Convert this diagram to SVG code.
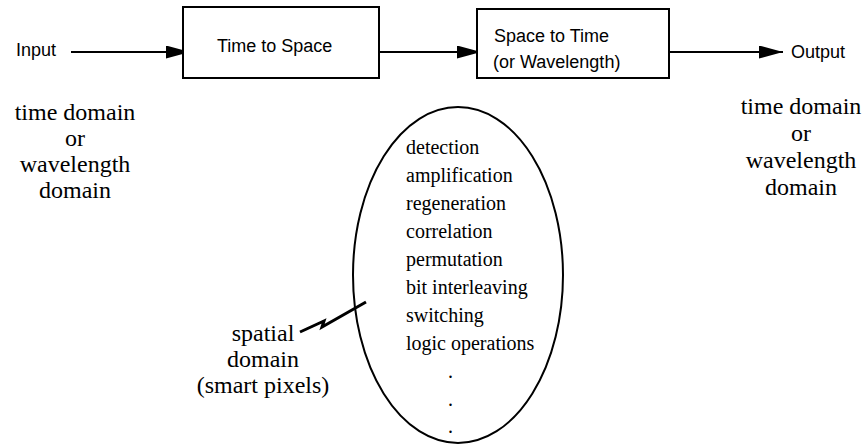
<svg xmlns="http://www.w3.org/2000/svg" width="865" height="447" viewBox="0 0 865 447">
<style>
.box{fill:#fff;stroke:#000;stroke-width:2}
.sans{font-family:"Liberation Sans",Arial,sans-serif;font-size:18px;fill:#000}
.serif{font-family:"Liberation Serif","Times New Roman",serif;font-size:24px;fill:#000}
.list{font-family:"Liberation Serif","Times New Roman",serif;font-size:20px;fill:#000}
.ln{stroke:#000;stroke-width:2;fill:none}
</style>
<defs>
<marker id="arr" markerWidth="24" markerHeight="13" refX="24" refY="6.5" orient="auto" markerUnits="userSpaceOnUse">
<path d="M0,0 L24,6.5 L0,13 Z" fill="#000"/>
</marker>
</defs>
<g id="connectors">
<line class="ln" x1="71" y1="52" x2="190" y2="52" marker-end="url(#arr)"/>
<line class="ln" x1="379" y1="52" x2="481" y2="52" marker-end="url(#arr)"/>
<line class="ln" x1="669" y1="52" x2="783" y2="52" marker-end="url(#arr)"/>
<polyline points="300,332 324,321 322,327 366,302" fill="none" stroke="#000" stroke-width="3" stroke-linejoin="miter"/>
</g>
<g id="input"><text class="sans" x="16" y="56">Input</text></g>
<g id="time-to-space">
<rect class="box" x="183" y="7" width="196" height="71"/>
<text class="sans" x="217" y="52">Time to Space</text>
</g>
<g id="space-to-time">
<rect class="box" x="477" y="9" width="192" height="69"/>
<text class="sans" x="494" y="42">Space to Time</text>
<text class="sans" x="493" y="68">(or Wavelength)</text>
</g>
<g id="output"><text class="sans" x="791" y="58">Output</text></g>
<g id="left-domain" class="serif" text-anchor="middle">
<text x="75" y="120">time domain</text>
<text x="75" y="146">or</text>
<text x="75" y="172">wavelength</text>
<text x="75" y="198">domain</text>
</g>
<g id="right-domain" class="serif" text-anchor="middle">
<text x="801" y="114">time domain</text>
<text x="801" y="141">or</text>
<text x="801" y="168">wavelength</text>
<text x="801" y="195">domain</text>
</g>
<g id="spatial-domain" class="serif" text-anchor="middle">
<text x="263" y="341">spatial</text>
<text x="263" y="367">domain</text>
<text x="263" y="393">(smart pixels)</text>
</g>
<g id="smart-pixels">
<ellipse cx="458" cy="275" rx="105" ry="168" fill="none" stroke="#000" stroke-width="2"/>
<g class="list">
<text x="406" y="154">detection</text>
<text x="406" y="182">amplification</text>
<text x="406" y="210">regeneration</text>
<text x="406" y="238">correlation</text>
<text x="406" y="266">permutation</text>
<text x="406" y="294">bit interleaving</text>
<text x="406" y="322">switching</text>
<text x="406" y="350">logic operations</text>
<text x="448" y="378">.</text>
<text x="448" y="406">.</text>
<text x="448" y="433">.</text>
</g>
</g>
</svg>
